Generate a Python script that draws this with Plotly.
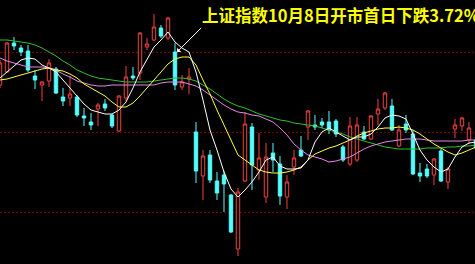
import plotly.graph_objects as go

# ---- data (index points) ----
idx = list(range(69))

opens = [3317.5, 3350, 3422.5, 3410, 3402.5, 3340, 3317.5, 3327.5, 3357.5, 3287.5,
         3285, 3287.5, 3240, 3225, 3257.5, 3270, 3242.5, 3202.5, 3285, 3340,
         3347.5, 3412.5, 3430, 3460, 3435, 3400, 3312.5, 3332.5, 3200, 3090,
         3142.5, 3077.5, 3092.5, 3042.5, 2907.5, 3077.5, 3212.5, 3105, 3037.5, 3147.5,
         3120, 3037.5, 3112.5, 3155, 3212.5, 3217.5, 3225, 3225, 3227.5, 3162.5,
         3120, 3130, 3200, 3182.5, 3245, 3260, 3265, 3165, 3220, 3195,
         3097.5, 3107.5, 3092.5, 3152.5, 3075, 3207.5, 3215, 3180, 3180]
highs = [3380, 3425, 3437.5, 3417.5, 3417.5, 3355, 3327.5, 3382.5, 3362.5, 3310,
         3340, 3292.5, 3260, 3247.5, 3272.5, 3282.5, 3245, 3292.5, 3365, 3362.5,
         3450, 3435, 3495, 3467.5, 3487.5, 3422.5, 3342.5, 3360, 3225, 3155,
         3155, 3100, 3102.5, 3045, 3060, 3250, 3222.5, 3197.5, 3172.5, 3172.5,
         3140, 3092.5, 3155, 3190, 3255, 3242.5, 3235, 3252.5, 3232.5, 3167.5,
         3237.5, 3237.5, 3215, 3242.5, 3282.5, 3300, 3282.5, 3217.5, 3242.5, 3205,
         3122.5, 3120, 3135, 3157.5, 3112.5, 3232.5, 3237.5, 3225, 3185]
lows = [3310, 3347.5, 3405, 3390, 3350, 3307.5, 3277.5, 3312.5, 3295, 3265,
        3265, 3237.5, 3215, 3205, 3215, 3252.5, 3210, 3200, 3277.5, 3330,
        3330, 3405, 3427.5, 3435, 3430, 3305, 3305, 3295, 3072.5, 3030,
        3072.5, 3030, 3000, 2947.5, 2890, 3075, 3055, 3080, 3022.5, 3100,
        3017.5, 3007.5, 3092.5, 3137.5, 3180, 3205, 3210, 3195, 3187.5, 3125,
        3115, 3125, 3180, 3180, 3217.5, 3255, 3202.5, 3162.5, 3197.5, 3092.5,
        3075, 3085, 3067.5, 3075, 3057.5, 3185, 3202.5, 3170, 3155]
closes = [3372.5, 3422.5, 3415, 3400, 3355, 3330, 3325, 3372.5, 3297.5, 3277.5,
          3295, 3242.5, 3235, 3217.5, 3267.5, 3260, 3215, 3290, 3337.5, 3335,
          3447.5, 3420, 3462.5, 3440, 3485, 3317.5, 3325, 3337.5, 3102.5, 3140,
          3080, 3047.5, 3070, 2950, 3050, 3220, 3117.5, 3135, 3137.5, 3130,
          3040, 3075, 3135, 3140, 3252.5, 3212.5, 3217.5, 3205, 3195, 3130,
          3215, 3217.5, 3182.5, 3240, 3257.5, 3297.5, 3205, 3205, 3205, 3095,
          3090, 3090, 3132.5, 3077.5, 3107.5, 3217.5, 3235, 3210, 3160]

ma5 = [3335, 3350, 3365, 3380, 3385, 3382.5, 3367.5, 3360, 3350, 3330,
       3312.5, 3290, 3270, 3255, 3250, 3245, 3245, 3255, 3275, 3310,
       3350, 3380, 3412.5, 3430, 3450, 3425, 3410, 3400, 3350, 3280,
       3205, 3155, 3100, 3057.5, 3037.5, 3055, 3075, 3100, 3130, 3137.5,
       3115, 3107.5, 3107.5, 3110, 3130, 3175, 3200, 3210, 3200, 3190,
       3180, 3187.5, 3187.5, 3195, 3212.5, 3235, 3242.5, 3240, 3232.5, 3195,
       3155, 3130, 3112.5, 3100, 3107.5, 3137.5, 3162.5, 3172.5, 3175]
ma10 = [3330, 3332.5, 3337.5, 3342.5, 3347.5, 3352.5, 3357.5, 3360, 3355, 3352.5,
        3345, 3335, 3320, 3310, 3300, 3290, 3275, 3262.5, 3262.5, 3272.5,
        3290, 3310, 3330, 3350, 3370, 3382.5, 3387.5, 3387.5, 3367.5, 3330,
        3295, 3255, 3217.5, 3180, 3142.5, 3130, 3117.5, 3105, 3100, 3097.5,
        3097.5, 3100, 3105, 3112.5, 3130, 3145, 3152.5, 3160, 3165, 3172.5,
        3180, 3190, 3197.5, 3202.5, 3207.5, 3210, 3210, 3212.5, 3210, 3205,
        3195, 3182.5, 3170, 3160, 3150, 3142.5, 3147.5, 3155, 3162.5]
ma20 = [3385, 3377.5, 3372.5, 3367.5, 3362.5, 3362.5, 3362.5, 3360, 3355, 3345,
        3337.5, 3327.5, 3322.5, 3317.5, 3315, 3315, 3317.5, 3317.5, 3317.5, 3317.5,
        3317.5, 3317.5, 3317.5, 3322.5, 3325, 3325, 3325, 3320, 3315, 3305,
        3292.5, 3280, 3267.5, 3257.5, 3250, 3247.5, 3242.5, 3240, 3232.5, 3225,
        3210, 3192.5, 3170, 3155, 3142.5, 3137.5, 3132.5, 3125, 3127.5, 3132.5,
        3137.5, 3147.5, 3157.5, 3165, 3170, 3175, 3177.5, 3180, 3182.5, 3182.5,
        3182.5, 3180, 3177.5, 3177.5, 3177.5, 3177.5, 3177.5, 3180, 3180]
ma30 = [3430, 3430, 3427.5, 3425, 3422.5, 3417.5, 3410, 3400, 3390, 3377.5,
        3367.5, 3355, 3347.5, 3340, 3335, 3332.5, 3330, 3327.5, 3325, 3325,
        3325, 3325, 3327.5, 3330, 3332.5, 3335, 3335, 3332.5, 3327.5, 3317.5,
        3307.5, 3295, 3282.5, 3272.5, 3265, 3260, 3252.5, 3245, 3240, 3235,
        3230, 3227.5, 3222.5, 3220, 3217.5, 3215, 3210, 3205, 3200, 3195,
        3187.5, 3182.5, 3177.5, 3172.5, 3167.5, 3162.5, 3160, 3157.5, 3157.5, 3157.5,
        3157.5, 3160, 3160, 3160, 3162.5, 3162.5, 3165, 3165, 3167.5]

grid_levels = [3000, 3200, 3400]
note_text = "上证指数10月8日开市首日下跌3.72%"
note_index = 25
note_level = 3400

RED = "#F04040"
CYAN = "#54FCFC"

fig = go.Figure()
fig.add_trace(go.Candlestick(
    x=idx, open=opens, high=highs, low=lows, close=closes,
    increasing=dict(line=dict(color=RED, width=1), fillcolor="#000000"),
    decreasing=dict(line=dict(color=CYAN, width=1), fillcolor=CYAN),
    whiskerwidth=0, hoverinfo="skip", showlegend=False))

for vals, col in [(ma30, "#2EC02E"), (ma20, "#E686E6"), (ma10, "#FFFF40"), (ma5, "#FFFFFF")]:
    fig.add_trace(go.Scatter(x=idx, y=vals, mode="lines",
                             line=dict(color=col, width=1),
                             hoverinfo="skip", showlegend=False))

fig.add_annotation(
    x=note_index + 0.3, y=note_level, xref="x", yref="y",
    text="<b>" + note_text + "</b>",
    showarrow=True, ax=24, ay=-24, xanchor="left", yanchor="bottom",
    arrowhead=1, arrowsize=1, arrowwidth=1, arrowcolor="#FFFFFF",
    font=dict(family="Noto Sans CJK SC", size=16.5, color="#FFFF00"),
    borderpad=0)

fig.update_layout(
    width=475, height=264, margin=dict(l=0, r=0, t=0, b=0),
    paper_bgcolor="#000000", plot_bgcolor="#000000",
    showlegend=False, boxgap=0.3,
    xaxis=dict(range=[0, 67.86], showgrid=False, zeroline=False,
               showticklabels=False, rangeslider=dict(visible=False),
               showline=False, ticks=""),
    yaxis=dict(range=[2870, 3530], showgrid=True, gridcolor="#6E0000",
               griddash="2px,2px", gridwidth=1, tickvals=grid_levels,
               showticklabels=False, zeroline=False, showline=False, ticks=""),
)

fig.write_html("out.html")
